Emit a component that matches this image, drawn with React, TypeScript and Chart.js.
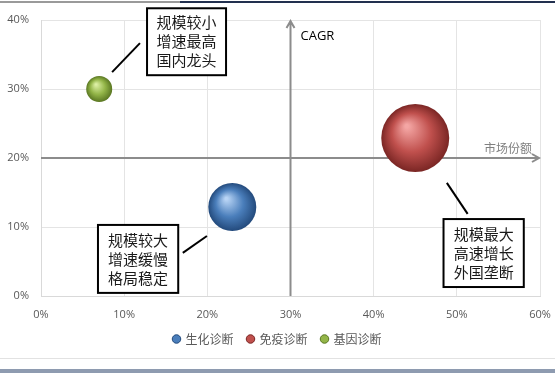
import React, { useEffect, useRef } from "react";
import { Chart, registerables } from "chart.js";
Chart.register(...registerables);

// ---- data ----
const seriesNames = ["生化诊断", "免疫诊断", "基因诊断"];
const marketShare = [23, 45, 7]; // x (%)
const cagr = [12.9, 22.9, 30]; // y (%)
const bubbleRadius = [24, 34, 13]; // px
const xMin = 0, xMax = 60, xStep = 10;
const yMin = 0, yMax = 40, yStep = 10;
const xAxisLabel = "市场份额";
const yAxisLabel = "CAGR";
const crossX = 30;
const crossY = 20;
const calloutTexts = [
  ["规模较大", "增速缓慢", "格局稳定"],
  ["规模最大", "高速增长", "外国垄断"],
  ["规模较小", "增速最高", "国内龙头"],
];

// ---- styles ----
const baseColors = ["#4a7ebb", "#c0504d", "#93b548"];
const lightColors = ["#b8d4f5", "#f4a6a4", "#dcefa4"];
const darkColors = ["#234a7c", "#7a2624", "#5a7722"];
// callout layout in data units: box [x0, x1, yTop, yBottom], leader [xa, ya, xb, yb]
const calloutBoxes = [
  [6.85, 16.5, 10.3, 0.45],
  [48.4, 58.05, 11.15, 1.3],
  [12.75, 22.25, 41.7, 32.0],
];
const calloutLeaders = [
  [17.05, 6.25, 19.95, 8.7],
  [48.8, 16.4, 51.3, 11.9],
  [8.55, 32.45, 11.9, 36.65],
];

const CJK = '"Noto Sans CJK SC", "Noto Sans", sans-serif';
const LAT = '"Open Sans", "Liberation Sans", sans-serif';

function sphere(i: number) {
  return (ctx: any) => {
    const raw = ctx.raw;
    const chart = ctx.chart;
    if (!raw || !chart.scales || !chart.scales.x) return baseColors[i];
    const px = chart.scales.x.getPixelForValue(raw.x);
    const py = chart.scales.y.getPixelForValue(raw.y);
    const r = raw.r;
    if (!isFinite(px) || !isFinite(py)) return baseColors[i];
    const g = chart.ctx.createRadialGradient(px - r * 0.25, py - r * 0.35, r * 0.05, px, py, r);
    g.addColorStop(0, lightColors[i]);
    g.addColorStop(0.55, baseColors[i]);
    g.addColorStop(1, darkColors[i]);
    return g;
  };
}

const decorPlugin = {
  id: "decor",
  beforeDraw(chart: any) {
    const c = chart.ctx;
    const W = chart.width, H = chart.height;
    c.save();
    c.fillStyle = "#ffffff";
    c.fillRect(0, 0, W, H);
    c.fillStyle = "#9a9a9a";
    c.fillRect(0, 1, 180, 2);
    c.fillStyle = "#22304f";
    c.fillRect(180, 1, W - 180, 2);
    c.fillStyle = "#e2e2e2";
    c.fillRect(0, 358, W, 1);
    c.fillStyle = "#8e9bb0";
    c.fillRect(0, 369, W, 4);
    c.restore();
  },
  beforeDatasetsDraw(chart: any) {
    const c = chart.ctx;
    const { x, y } = chart.scales;
    const area = chart.chartArea;
    const cx = x.getPixelForValue(crossX);
    const cy = y.getPixelForValue(crossY);
    c.save();
    c.strokeStyle = "#8c8c8c";
    c.lineWidth = 2;
    c.beginPath();
    c.moveTo(cx, area.bottom);
    c.lineTo(cx, area.top + 1);
    c.moveTo(cx - 4, area.top + 8);
    c.lineTo(cx, area.top + 1);
    c.lineTo(cx + 4, area.top + 8);
    c.moveTo(area.left, cy);
    c.lineTo(area.right - 1, cy);
    c.moveTo(area.right - 8, cy - 4);
    c.lineTo(area.right - 1, cy);
    c.lineTo(area.right - 8, cy + 4);
    c.stroke();
    c.fillStyle = "#000000";
    c.font = "13px " + LAT;
    c.textBaseline = "middle";
    c.textAlign = "left";
    c.fillText(yAxisLabel, cx + 10, area.top + 16);
    c.fillStyle = "#808080";
    c.font = "12px " + CJK;
    c.textAlign = "right";
    c.fillText(xAxisLabel, area.right - 8, cy - 10);
    c.restore();
  },
  afterDatasetsDraw(chart: any) {
    const c = chart.ctx;
    const { x, y } = chart.scales;
    c.save();
    for (let i = 0; i < calloutTexts.length; i++) {
      const [bx0, bx1, byt, byb] = calloutBoxes[i];
      const x0 = x.getPixelForValue(bx0), x1 = x.getPixelForValue(bx1);
      const y0 = y.getPixelForValue(byt), y1 = y.getPixelForValue(byb);
      const [la, lb, lc, ld] = calloutLeaders[i];
      c.strokeStyle = "#000000";
      c.lineWidth = 2;
      c.beginPath();
      c.moveTo(x.getPixelForValue(la), y.getPixelForValue(lb));
      c.lineTo(x.getPixelForValue(lc), y.getPixelForValue(ld));
      c.stroke();
      c.fillStyle = "#ffffff";
      c.fillRect(x0, y0, x1 - x0, y1 - y0);
      c.strokeRect(x0, y0, x1 - x0, y1 - y0);
      c.fillStyle = "#1a1a1a";
      c.font = "15px " + CJK;
      c.textAlign = "center";
      c.textBaseline = "middle";
      const lines = calloutTexts[i];
      const lh = 19;
      const mx = (x0 + x1) / 2, my = (y0 + y1) / 2;
      lines.forEach((t, k) => {
        c.fillText(t, mx, my + (k - (lines.length - 1) / 2) * lh);
      });
    }
    c.restore();
  },
};

export default function App() {
  const ref = useRef<HTMLCanvasElement>(null);
  useEffect(() => {
    document.body.style.margin = "0";
    const datasets = seriesNames.map((name, i) => ({
      label: name,
      data: [{ x: marketShare[i], y: cagr[i], r: bubbleRadius[i] }],
      backgroundColor: sphere(i),
      borderWidth: 0,
    }));
    const chart = new Chart(ref.current!, {
      type: "bubble",
      data: { datasets },
      plugins: [decorPlugin],
      options: {
        animation: false,
        responsive: false,
        layout: { autoPadding: false, padding: { left: 0, right: 0, top: 20, bottom: 18 } },
        plugins: {
          tooltip: { enabled: false },
          legend: {
            position: "bottom",
            labels: {
              usePointStyle: true,
              pointStyle: "circle",
              boxWidth: 6,
              boxHeight: 6,
              padding: 14,
              color: "#595959",
              font: { family: CJK, size: 12 },
              generateLabels: () =>
                seriesNames.map((n, i) => ({
                  text: n,
                  fillStyle: baseColors[i],
                  strokeStyle: darkColors[i],
                  lineWidth: 1,
                  pointStyle: "circle",
                  datasetIndex: i,
                  hidden: false,
                  fontColor: "#595959",
                })),
            },
          },
        },
        scales: {
          x: {
            type: "linear",
            min: xMin,
            max: xMax,
            afterFit: (s: any) => { s.height = 23; s.paddingRight = 15; s.paddingLeft = 0; },
            ticks: {
              stepSize: xStep,
              padding: 12,
              color: "#595959",
              font: { family: LAT, size: 11 },
              callback: (v: any) => v + "%",
            },
            grid: { color: "#e4e4e4", drawTicks: false },
            border: { display: true, color: "#d9d9d9" },
          },
          y: {
            type: "linear",
            min: yMin,
            max: yMax,
            afterFit: (s: any) => { s.width = 41; },
            ticks: {
              stepSize: yStep,
              padding: 12,
              color: "#595959",
              font: { family: LAT, size: 11 },
              callback: (v: any) => v + "%",
            },
            grid: { color: "#e4e4e4", drawTicks: false },
            border: { display: true, color: "#d9d9d9" },
          },
        },
      },
    });
    return () => chart.destroy();
  }, []);
  return (
    <div style={{ position: "absolute", left: 0, top: 0, width: 555, height: 373 }}>
      <canvas ref={ref} width={555} height={373} style={{ display: "block" }} />
    </div>
  );
}
